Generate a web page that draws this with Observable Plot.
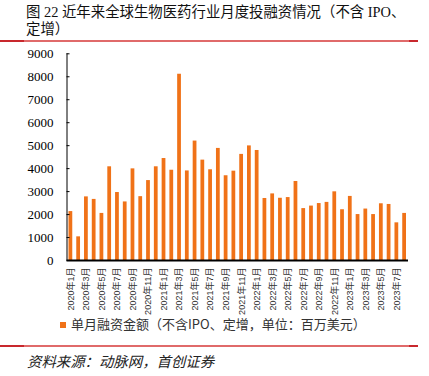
<!DOCTYPE html>
<html><head><meta charset="utf-8">
<script src="https://cdn.jsdelivr.net/npm/d3@7"></script>
<script src="https://cdn.jsdelivr.net/npm/@observablehq/plot@0.6"></script>
<style>
body{margin:0;width:429px;height:376px;position:relative;background:#fff;overflow:hidden;color:#000}
#ttl{position:absolute;left:0;top:4px;width:429px;box-sizing:border-box;padding-left:26px;font-family:"Liberation Serif","Noto Sans CJK SC",serif;font-size:14.4px;line-height:17px;white-space:nowrap;color:#111;text-align:left}
.rl{position:absolute;left:0;width:418px;height:2px;background:#e06a6a}
.rl .a{position:absolute;left:0;top:0;width:24px;height:2px;background:#c8282d}
.rl .b{position:absolute;left:409px;top:0;width:9px;height:2px;background:#c8282d}
#chart{position:absolute;left:0;top:44px}
#legend{position:absolute;left:60px;top:316px;font-family:"Noto Sans CJK SC",sans-serif;font-size:13px;color:#333;white-space:nowrap;line-height:16px}
#legend .sw{display:inline-block;width:6px;height:6px;background:#F07218;margin-right:5px;vertical-align:1px}
#source{position:absolute;left:27px;top:350px;font-family:"Noto Sans CJK SC",sans-serif;font-style:italic;font-size:14.4px;color:#222;white-space:nowrap}
</style></head><body>
<div id="ttl"><div>图 22 近年来全球生物医药行业月度投融资情况（不含 IPO、</div><div>定增）</div></div>
<div class="rl" style="top:40px"><div class="a"></div><div class="b"></div></div>
<div id="chart"></div>
<div id="legend"><span class="sw"></span>单月融资金额（不含IPO、定增，单位：百万美元）</div>
<div class="rl" style="top:345px"><div class="a"></div><div class="b"></div></div>
<div id="source">资料来源：动脉网，首创证券</div>
<script>
const months = [
"2020年1月","2020年2月","2020年3月","2020年4月","2020年5月","2020年6月","2020年7月","2020年8月","2020年9月","2020年10月","2020年11月","2020年12月",
"2021年1月","2021年2月","2021年3月","2021年4月","2021年5月","2021年6月","2021年7月","2021年8月","2021年9月","2021年10月","2021年11月","2021年12月",
"2022年1月","2022年2月","2022年3月","2022年4月","2022年5月","2022年6月","2022年7月","2022年8月","2022年9月","2022年10月","2022年11月","2022年12月",
"2023年1月","2023年2月","2023年3月","2023年4月","2023年5月","2023年6月","2023年7月","2023年8月"];
const values = [
2130,1030,2770,2660,2050,4080,2960,2550,3990,2780,3480,4080,
4440,3930,8110,3900,5200,4370,3950,4880,3690,3890,4620,4990,
4790,2700,2900,2710,2740,3440,2260,2370,2480,2530,2990,2210,
2790,2000,2240,2000,2470,2440,1640,2050];
const xTicks = ["2020年1月","2020年3月","2020年5月","2020年7月","2020年9月","2020年11月",
"2021年1月","2021年3月","2021年5月","2021年7月","2021年9月","2021年11月",
"2022年1月","2022年3月","2022年5月","2022年7月","2022年9月","2022年11月",
"2023年1月","2023年3月","2023年5月","2023年7月"];
const yTicks = [0,1000,2000,3000,4000,5000,6000,7000,8000,9000];

const data = months.map((m,i)=>({month:m, value:values[i]}));
const W = 429, H = 268, ML = 66.5, MR = 21;
const step = (W-ML-MR)/months.length;
const chart = Plot.plot({
  width:W, height:H, marginTop:9.3, marginBottom:52, marginLeft:ML, marginRight:MR,
  style:{background:"transparent", overflow:"visible", color:"#000"},
  x:{domain:months, padding:0, axis:null, label:null},
  y:{domain:[0,9000], axis:null, label:null},
  marks:[
    Plot.barY(data,{x:"month", y:"value", fill:"#F07218", insetLeft:2, insetRight:2}),
    Plot.axisY({ticks:yTicks, label:null, tickSize:0, tickPadding:13.5, fontSize:13, fontFamily:"Liberation Serif, serif", tickFormat:d=>String(d), fill:"#000"}),
    Plot.tickY(yTicks,{y:d=>d, insetRight:(W-ML-MR)-3, stroke:"#000"}),
    Plot.ruleX([months[0]],{x:d=>d, dx:-step/2, y1:0, y2:9000, stroke:"#000"}),
    Plot.ruleY([0],{stroke:"#000", strokeWidth:2}),
    Plot.axisX({ticks:xTicks, label:null, tickRotate:-90, tickSize:0, tickPadding:7, fontSize:9, fontFamily:"Liberation Sans, Noto Sans CJK SC, sans-serif", fill:"#333"})
  ]
});
document.getElementById("chart").appendChild(chart);
</script>
</body></html>
